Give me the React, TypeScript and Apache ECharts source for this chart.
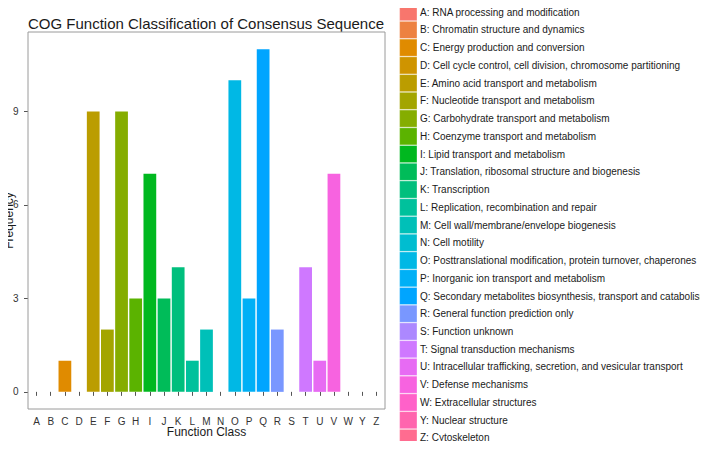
import React, { useEffect, useRef } from "react";
import * as echarts from "echarts";

const categories = ["A","B","C","D","E","F","G","H","I","J","K","L","M","N","O","P","Q","R","S","T","U","V","W","Y","Z"];
const descriptions = [
  "RNA processing and modification",
  "Chromatin structure and dynamics",
  "Energy production and conversion",
  "Cell cycle control, cell division, chromosome partitioning",
  "Amino acid transport and metabolism",
  "Nucleotide transport and metabolism",
  "Carbohydrate transport and metabolism",
  "Coenzyme transport and metabolism",
  "Lipid transport and metabolism",
  "Translation, ribosomal structure and biogenesis",
  "Transcription",
  "Replication, recombination and repair",
  "Cell wall/membrane/envelope biogenesis",
  "Cell motility",
  "Posttranslational modification, protein turnover, chaperones",
  "Inorganic ion transport and metabolism",
  "Secondary metabolites biosynthesis, transport and catabolism",
  "General function prediction only",
  "Function unknown",
  "Signal transduction mechanisms",
  "Intracellular trafficking, secretion, and vesicular transport",
  "Defense mechanisms",
  "Extracellular structures",
  "Nuclear structure",
  "Cytoskeleton",
];
const frequencies = [0,0,1,0,9,2,9,3,7,3,4,1,2,0,10,3,11,2,0,4,1,7,0,0,0];
const yTicks = [0, 3, 6, 9];

// ggplot2-style hue palette (HCL, c=100, l=65)
function hcl(h: number, c: number, l: number): string {
  const hr = (h * Math.PI) / 180;
  const U = c * Math.cos(hr);
  const V = c * Math.sin(hr);
  const Xn = 95.047, Yn = 100, Zn = 108.883;
  const Y = l > 7.999592 ? Yn * Math.pow((l + 16) / 116, 3) : (Yn * l) / 903.3;
  const denom = Xn + 15 * Yn + 3 * Zn;
  const un = (4 * Xn) / denom;
  const vn = (9 * Yn) / denom;
  const u = U / (13 * l) + un;
  const v = V / (13 * l) + vn;
  const X = (9 * Y * u) / (4 * v);
  const Z = -X / 3 - 5 * Y + (3 * Y) / v;
  const x = X / 100, y = Y / 100, z = Z / 100;
  const lin = [
    3.240479 * x - 1.53715 * y - 0.498535 * z,
    -0.969256 * x + 1.875992 * y + 0.041556 * z,
    0.055648 * x - 0.204043 * y + 1.057311 * z,
  ];
  const hex = lin
    .map((c0) => {
      let g = c0 <= 0.0031308 ? 12.92 * c0 : 1.055 * Math.pow(c0, 1 / 2.4) - 0.055;
      g = Math.max(0, Math.min(1, g));
      return Math.round(g * 255).toString(16).padStart(2, "0");
    })
    .join("");
  return "#" + hex;
}

function huePalette(n: number): string[] {
  const start = 15;
  const end = 375 - 360 / n;
  const out: string[] = [];
  for (let i = 0; i < n; i++) {
    const h = n === 1 ? start : start + ((end - start) * i) / (n - 1);
    out.push(hcl(h % 360, 100, 65));
  }
  return out;
}

const FONT = "Liberation Sans, Arial, Helvetica, sans-serif";

export default function App() {
  const ref = useRef<HTMLDivElement>(null);

  useEffect(() => {
    if (!ref.current) return;
    const chart = echarts.init(ref.current, undefined, { renderer: "svg" });
    const colors = huePalette(categories.length);
    const names = categories.map((c, i) => `${c}: ${descriptions[i]}`);

    const series = categories.map((c, i) => ({
      type: "bar",
      name: names[i],
      stack: "cog",
      barWidth: "90%",
      itemStyle: { color: colors[i] },
      emphasis: { disabled: true },
      data: frequencies.map((v, j) => (j === i ? v : "-")),
    }));

    chart.setOption({
      animation: false,
      backgroundColor: "#ffffff",
      textStyle: { fontFamily: FONT },
      title: {
        text: "COG Function Classification of Consensus Sequence",
        left: 28,
        top: 16,
        padding: 0,
        textStyle: { fontSize: 15, fontWeight: "normal", color: "#1a1a1a", fontFamily: FONT },
      },
      legend: {
        orient: "vertical",
        left: 399.3,
        top: 3.3,
        height: 446,
        padding: 0,
        itemGap: 0,
        itemWidth: 17.4,
        itemHeight: 17.14,
        icon: "rect",
        selectedMode: false,
        itemStyle: { borderColor: "rgba(255,255,255,0.55)", borderWidth: 0.6 },
        textStyle: { fontSize: 10, color: "#1a1a1a", fontFamily: FONT, padding: [0, 0, 0, -2] },
        data: names,
      },
      grid: { left: 29.5, right: 324.5, top: 32, bottom: 40, containLabel: false },
      xAxis: {
        type: "category",
        data: categories,
        boundaryGap: true,
        name: "Function Class",
        nameLocation: "middle",
        nameGap: 17,
        nameMoveOverlap: false,
        nameTextStyle: { fontSize: 12, color: "#1a1a1a", fontFamily: FONT, verticalAlign: "top" },
        axisLine: { show: false },
        axisTick: { show: true, alignWithLabel: true, length: 4, lineStyle: { color: "#555" } },
        axisLabel: { fontSize: 10, color: "#333", margin: 7, interval: 0, fontFamily: FONT },
        splitLine: { show: false },
      },
      yAxis: {
        type: "value",
        min: -0.55,
        max: 11.55,
        offset: 1.5,
        name: "Frequency",
        nameLocation: "middle",
        nameRotate: 90,
        nameGap: 13.5,
        nameMoveOverlap: false,
        nameTextStyle: { fontSize: 12, color: "#1a1a1a", fontFamily: FONT },
        axisLine: { show: false },
        axisTick: { show: true, length: 4, customValues: yTicks, lineStyle: { color: "#555" } },
        axisLabel: { fontSize: 10, color: "#333", margin: 9.5, customValues: yTicks, fontFamily: FONT },
        splitLine: { show: false },
      },
      graphic: [
        {
          type: "rect",
          shape: { x: 28, y: 32, width: 357, height: 377 },
          style: { fill: "none", stroke: "#9a9a9a", lineWidth: 1 },
          silent: true,
          z: 10,
        },
      ],
      series,
    });

    return () => chart.dispose();
  }, []);

  return <div ref={ref} style={{ width: 708, height: 449, margin: -8 }} />;
}
